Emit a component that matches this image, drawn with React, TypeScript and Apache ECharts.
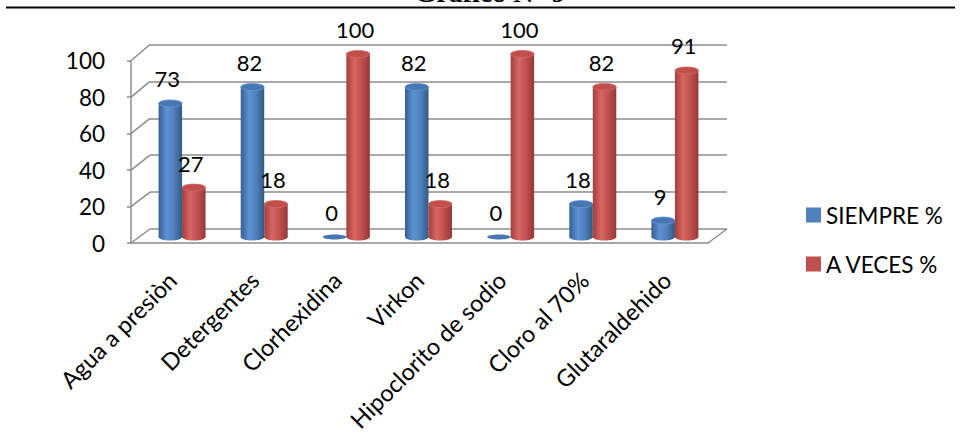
import React, { useEffect, useRef } from "react";
import * as echarts from "echarts";

const title = "Gráfico N° 9";
const categories = [
  "Agua a presiòn",
  "Detergentes",
  "Clorhexidina",
  "Virkon",
  "Hipoclorito de sodio",
  "Cloro al 70%",
  "Glutaraldehido",
];
const seriesNames = ["SIEMPRE %", "A VECES %"];
const siempre = [73, 82, 0, 82, 0, 18, 9];
const aVeces = [27, 18, 100, 18, 100, 82, 91];
const yTicks = [0, 20, 40, 60, 80, 100];

const FONT = "Lato";
const GRID_COLOR = "#8c8c8c";
const W = 961;
const H = 441;

// layout of the pseudo-3D frame
const BAR_GRID = { left: 141, right: W - 716, top: 54, bottom: H - 237 };
const BACK_GRID = { left: 150, right: W - 727, top: 44.5, bottom: H - 229 };
const FRONT_GRID = { left: 131, right: W - 708, top: 60.7, bottom: H - 243 };

const palettes = [
  {
    base: "#4f81bd",
    stops: ["#365f94", "#5d91d2", "#4f81bd", "#325985"],
    top: "#4577b4",
    rim: "#6a9bd6",
  },
  {
    base: "#c0504d",
    stops: ["#a23e3b", "#d86764", "#c0504d", "#96383a"],
    top: "#c04e4b",
    rim: "#d66a67",
  },
];

function makeRenderItem(s: number) {
  const pal = palettes[s];
  return (params: any, api: any) => {
    const idx = api.value(0);
    const val = api.value(1);
    const [cx0, yTop] = api.coord([idx, val]);
    const yBase = api.coord([idx, 0])[1];
    const band = api.size([1, 0])[0];
    const w = band * 0.286;
    const cx = cx0 + (s === 0 ? -w / 2 : w / 2);
    const grad = new echarts.graphic.LinearGradient(0, 0, 1, 0, [
      { offset: 0, color: pal.stops[0] },
      { offset: 0.35, color: pal.stops[1] },
      { offset: 0.65, color: pal.stops[2] },
      { offset: 1, color: pal.stops[3] },
    ]);
    const children: any[] = [];
    if (val > 0) {
      children.push({
        type: "ellipse",
        shape: { cx, cy: yBase, rx: w / 2, ry: 3.5 },
        style: { fill: grad },
      });
      children.push({
        type: "rect",
        shape: { x: cx - w / 2, y: yTop, width: w, height: yBase - yTop },
        style: { fill: grad },
      });
      children.push({
        type: "ellipse",
        shape: { cx, cy: yTop, rx: w / 2, ry: 3.5 },
        style: { fill: pal.top, stroke: pal.rim, lineWidth: 0.8 },
      });
    } else {
      children.push({
        type: "ellipse",
        shape: { cx, cy: yBase, rx: w / 2, ry: 2.5 },
        style: { fill: pal.top },
      });
    }
    children.push({
      type: "text",
      x: cx - 3,
      y: yTop - 24.5,
      style: {
        text: String(val),
        fontSize: 22,
        fontFamily: FONT,
        fill: "#000",
        align: "center",
        verticalAlign: "middle",
      },
    });
    return { type: "group", children };
  };
}

export default function App() {
  const ref = useRef<HTMLDivElement>(null);

  useEffect(() => {
    if (!ref.current) return;
    const chart = echarts.init(ref.current, undefined, { renderer: "svg" });
    const seriesData = [siempre, aVeces];

    const option: any = {
      animation: false,
      backgroundColor: "#ffffff",
      grid: [
        { ...BAR_GRID, containLabel: false },
        { ...BACK_GRID, containLabel: false },
        { ...FRONT_GRID, containLabel: false },
      ],
      xAxis: [
        { type: "category", gridIndex: 0, data: categories, show: false },
        { type: "category", gridIndex: 1, data: categories, show: false },
        {
          type: "category",
          gridIndex: 2,
          data: categories,
          axisLine: { show: true, lineStyle: { color: GRID_COLOR, width: 1.5 } },
          axisTick: { show: false },
          splitLine: { show: false },
          axisLabel: {
            interval: 0,
            rotate: 45,
            margin: 33,
            fontSize: 23.5,
            fontFamily: FONT,
            color: "#000",
          },
        },
      ],
      yAxis: [
        { type: "value", gridIndex: 0, min: 0, max: 100, show: false },
        {
          type: "value",
          gridIndex: 1,
          min: 0,
          max: 100,
          interval: 20,
          axisLine: { show: false },
          axisTick: { show: false },
          axisLabel: { show: false },
          splitLine: { show: true, lineStyle: { color: GRID_COLOR, width: 1.5 } },
        },
        {
          type: "value",
          gridIndex: 2,
          min: 0,
          max: 100,
          interval: 20,
          axisLine: { show: true, lineStyle: { color: GRID_COLOR, width: 1.5 } },
          axisTick: { show: true, length: 4, lineStyle: { color: GRID_COLOR, width: 1.5 } },
          splitLine: { show: false },
          axisLabel: {
            margin: 26,
            fontSize: 22.5,
            fontFamily: FONT,
            color: "#000",
          },
        },
      ],
      legend: {
        orient: "vertical",
        left: 801,
        top: 198,
        itemWidth: 15,
        itemHeight: 15,
        itemGap: 25,
        icon: "rect",
        data: seriesNames,
        textStyle: { fontSize: 22.5, fontFamily: FONT, color: "#000", lineHeight: 24 },
      },
      series: seriesNames.map((name, s) => ({
        type: "custom",
        name,
        xAxisIndex: 0,
        yAxisIndex: 0,
        itemStyle: { color: palettes[s].base },
        renderItem: makeRenderItem(s),
        data: seriesData[s].map((v, i) => [i, v]),
        z: 3 + s,
      })),
    };
    chart.setOption(option);

    // side-wall diagonals connecting front axis ticks to back-wall gridlines
    const graphics: any[] = [
      {
        type: "text",
        id: "title",
        x: 490,
        y: -7.5,
        style: {
          text: title,
          fontSize: 28,
          fontWeight: "bold",
          fontFamily: "Liberation Serif",
          fill: "#000",
          align: "center",
          verticalAlign: "middle",
        },
      },
      {
        type: "line",
        id: "titleLine",
        shape: { x1: 6, y1: 7.5, x2: 955, y2: 7.5 },
        style: { stroke: "#000", lineWidth: 2 },
      },
    ];
    const frontX = FRONT_GRID.left;
    const backX = BACK_GRID.left;
    yTicks.forEach((v, k) => {
      const yf = chart.convertToPixel({ yAxisIndex: 2 }, v) as number;
      const yb = chart.convertToPixel({ yAxisIndex: 1 }, v) as number;
      graphics.push({
        type: "line",
        id: "diag" + k,
        shape: { x1: frontX, y1: yf, x2: backX, y2: yb },
        style: { stroke: GRID_COLOR, lineWidth: 1.5 },
      });
    });
    const yf0 = chart.convertToPixel({ yAxisIndex: 2 }, 0) as number;
    const yb0 = chart.convertToPixel({ yAxisIndex: 1 }, 0) as number;
    graphics.push({
      type: "line",
      id: "floorRight",
      shape: { x1: W - FRONT_GRID.right, y1: yf0, x2: W - BACK_GRID.right, y2: yb0 },
      style: { stroke: GRID_COLOR, lineWidth: 1.5 },
    });
    chart.setOption({ graphic: graphics });

    return () => chart.dispose();
  }, []);

  return (
    <div
      ref={ref}
      style={{ position: "absolute", left: 0, top: 0, width: W, height: H }}
    />
  );
}
